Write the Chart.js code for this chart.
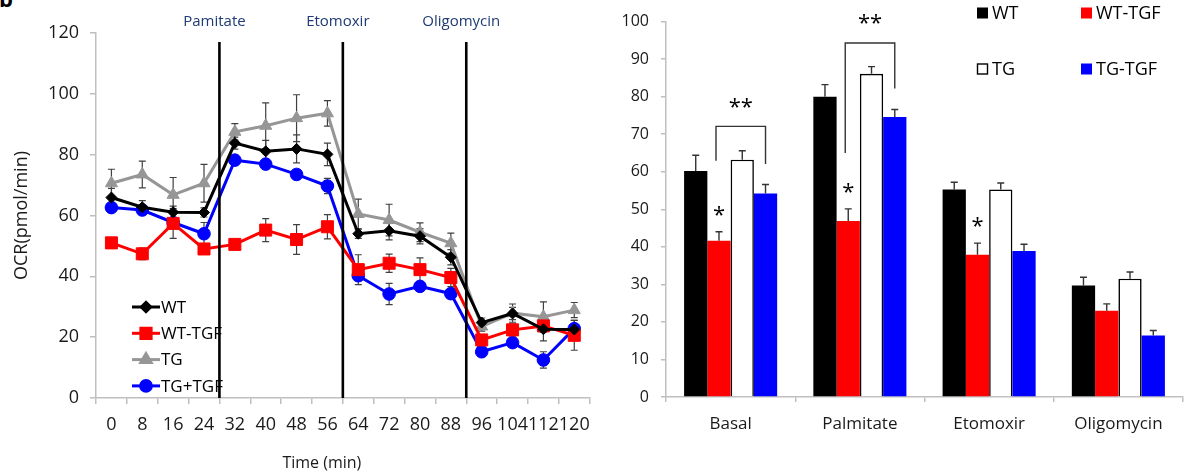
<!DOCTYPE html>
<html><head><meta charset="utf-8">
<script src="https://cdn.jsdelivr.net/npm/chart.js@4.4.0/dist/chart.umd.min.js"></script>
<style>
html,body{margin:0;padding:0;background:#fff;width:1187px;height:476px;overflow:hidden;font-family:'Open Sans',sans-serif;}
#left{position:absolute;left:0;top:0;width:600px;height:476px;}
#right{position:absolute;left:600px;top:0;width:587px;height:476px;}
#tag{position:absolute;left:-1px;top:-17px;font:bold 22px 'Open Sans',sans-serif;color:#000;}
</style></head><body>
<div id="tag">b</div>
<div id="left"><canvas id="c1" width="600" height="476"></canvas></div>
<div id="right"><canvas id="c2" width="587" height="476"></canvas></div>
<script>
// ---------- left chart data ----------
const timeLabels = ['0','8','16','24','32','40','48','56','64','72','80','88','96','104','112','120'];
const wt       = [65.9, 62.7, 61.1, 61.0, 83.8, 81.1, 81.9, 80.1, 54.0, 55.0, 53.2, 46.3, 24.8, 27.8, 22.6, 22.5];
const wtTgf    = [51.0, 47.4, 57.4, 49.0, 50.5, 55.2, 52.1, 56.3, 42.2, 44.3, 42.2, 39.6, 19.1, 22.4, 23.7, 20.6];
const tg       = [70.6, 73.5, 66.8, 70.6, 87.5, 89.5, 92.0, 93.6, 60.5, 58.5, 54.5, 50.9, 23.5, 27.9, 26.7, 28.9];
const tgTgf    = [62.6, 61.8, 57.7, 54.0, 78.2, 76.9, 73.5, 69.7, 40.2, 34.2, 36.7, 34.3, 15.2, 18.2, 12.5, 22.8];
const wtErr    = [3.0, 2.2, 2.0, 1.5, 2.0, 3.6, 4.6, 3.7, 1.5, 3.0, 2.5, 2.5, 1.5, 2.0, 3.8, 3.0];
const wtTgfErr = [1.0, 1.9, 4.9, 1.0, 1.0, 3.8, 4.9, 4.0, 4.9, 3.0, 3.9, 3.0, 1.5, 2.0, 2.0, 4.9];
const tgErr    = [4.6, 4.4, 5.7, 6.2, 2.7, 7.5, 7.7, 4.2, 4.9, 5.2, 3.1, 3.3, 1.5, 3.0, 4.9, 2.5];
const tgTgfErr = [1.0, 1.0, 1.5, 3.7, 1.5, 1.5, 1.5, 2.5, 1.5, 3.5, 1.5, 1.5, 1.0, 1.0, 2.7, 1.0];
const injections = ['Pamitate', 'Etomoxir', 'Oligomycin'];
const injectionAfterIndex = [3, 7, 11];
const lineYTicks = [0, 20, 40, 60, 80, 100, 120];

// ---------- right chart data ----------
const phases      = ['Basal', 'Palmitate', 'Etomoxir', 'Oligomycin'];
const barWt       = [60.2, 80.0, 55.3, 29.7];
const barWtTgf    = [41.6, 46.9, 37.9, 23.0];
const barTg       = [63.2, 86.1, 55.3, 31.5];
const barTgTgf    = [54.2, 74.6, 38.9, 16.4];
const barWtErr    = [4.2, 3.2, 1.9, 2.2];
const barWtTgfErr = [2.4, 3.2, 3.1, 1.8];
const barTgErr    = [2.4, 1.9, 1.7, 1.8];
const barTgTgfErr = [2.4, 2.0, 1.8, 1.3];
const singleStarPhases = [0, 1, 2];        // '*' above WT-TGF
const bracketPhase   = [0, 1];             // '**' brackets WT-TGF vs TG-TGF
const bracketTop     = [72.1, 94.3];
const bracketLeftEnd = [62.9, 65.0];
const bracketRightEnd= [62.1, 82.2];

Chart.defaults.font.family = "'Open Sans', sans-serif";
Chart.defaults.color = '#1a1a1a';
const AX = '#bfbfbf';
const FONT = "'Open Sans', sans-serif";

// ---------- left chart ----------
const leftDecor = {
  id: 'leftDecor',
  beforeDatasetsDraw(chart) {
    const ctx = chart.ctx, ys = chart.scales.y;
    ctx.save();
    ctx.strokeStyle = '#404040'; ctx.lineWidth = 1.2;
    chart.data.datasets.forEach((ds, i) => {
      chart.getDatasetMeta(i).data.forEach((pt, j) => {
        const v = ds.data[j], e = ds.errors[j];
        const y1 = ys.getPixelForValue(v + e), y2 = ys.getPixelForValue(v - e);
        ctx.beginPath();
        ctx.moveTo(pt.x, y1); ctx.lineTo(pt.x, y2);
        ctx.moveTo(pt.x - 3.5, y1); ctx.lineTo(pt.x + 3.5, y1);
        ctx.moveTo(pt.x - 3.5, y2); ctx.lineTo(pt.x + 3.5, y2);
        ctx.stroke();
      });
    });
    ctx.restore();
  },
  afterDatasetsDraw(chart) {
    const ctx = chart.ctx, xs = chart.scales.x, ys = chart.scales.y;
    ctx.save();
    // legend
    ctx.font = '17px ' + FONT; ctx.textBaseline = 'middle'; ctx.textAlign = 'left';
    chart.data.datasets.forEach((ds, i) => {
      const ly = 307 + i * 26.3;
      ctx.strokeStyle = ds.borderColor; ctx.lineWidth = 3;
      ctx.beginPath(); ctx.moveTo(132, ly); ctx.lineTo(160, ly); ctx.stroke();
      ctx.fillStyle = ds.pointBackgroundColor; ctx.strokeStyle = ds.borderColor;
      Chart.helpers.drawPoint(ctx, {pointStyle: ds.pointStyle, radius: ds.pointRadius * 0.85, rotation: 0, borderWidth: 1}, 146, ly);
      ctx.fillStyle = '#000';
      ctx.fillText(ds.label, 161, ly + 1);
    });
    // injection lines
    ctx.strokeStyle = '#000'; ctx.lineWidth = 2.6;
    ctx.font = '15px ' + FONT; ctx.textAlign = 'center'; ctx.fillStyle = '#1F3B73';
    injectionAfterIndex.forEach((idx, k) => {
      const lx = (xs.getPixelForTick(idx) + xs.getPixelForTick(idx + 1)) / 2;
      ctx.beginPath(); ctx.moveTo(lx, 42); ctx.lineTo(lx, ys.getPixelForValue(0)); ctx.stroke();
      ctx.fillText(injections[k], lx - 5, 22);
    });
    // x title
    ctx.fillStyle = '#1a1a1a'; ctx.font = '16px ' + FONT;
    ctx.fillText('Time (min)', (xs.left + xs.right) / 2 - 21, 463);
    ctx.restore();
  }
};

new Chart(document.getElementById('c1'), {
  type: 'line',
  data: {
    labels: timeLabels,
    datasets: [
      {label: 'WT', data: wt, errors: wtErr, borderColor: '#000000', pointBackgroundColor: '#000000', pointStyle: 'rectRot', pointRadius: 5.5},
      {label: 'WT-TGF', data: wtTgf, errors: wtTgfErr, borderColor: '#ff0000', pointBackgroundColor: '#ff0000', pointStyle: 'rect', pointRadius: 8.5},
      {label: 'TG', data: tg, errors: tgErr, borderColor: '#969696', pointBackgroundColor: '#969696', pointStyle: 'triangle', pointRadius: 7},
      {label: 'TG+TGF', data: tgTgf, errors: tgTgfErr, borderColor: '#0000ff', pointBackgroundColor: '#0000ff', pointStyle: 'circle', pointRadius: 6.3}
    ].map(d => Object.assign(d, {borderWidth: 3, pointBorderWidth: 1, pointBorderColor: d.borderColor, pointHoverRadius: d.pointRadius, tension: 0, fill: false}))
  },
  options: {
    responsive: false, animation: false,
    layout: {padding: {top: 33, right: 9, left: 0, bottom: 0}},
    plugins: {legend: {display: false}, tooltip: {enabled: false}},
    scales: {
      x: {
        type: 'category', offset: true,
        grid: {offset: true, drawOnChartArea: false, drawTicks: true, tickLength: 6, color: AX, lineWidth: 1.5},
        border: {display: true, color: AX, width: 1.5},
        ticks: {autoSkip: false, maxRotation: 0, padding: 10, font: {size: 18}, color: '#1a1a1a'},
        afterFit: s => { s.height = 78; }
      },
      y: {
        min: 0, max: 120,
        afterBuildTicks: s => { s.ticks = lineYTicks.map(v => ({value: v})); },
        grid: {drawOnChartArea: false, drawTicks: true, tickLength: 6, color: AX, lineWidth: 1.5},
        border: {display: true, color: AX, width: 1.5},
        ticks: {padding: 11, font: {size: 18}, color: '#1a1a1a'},
        title: {display: true, text: 'OCR(pmol/min)', font: {size: 18}, color: '#1a1a1a', padding: {top: 11, bottom: 0}},
        afterFit: s => { s.width = 96; }
      }
    }
  },
  plugins: [leftDecor]
});

// ---------- right chart ----------
const rightDecor = {
  id: 'rightDecor',
  afterDatasetsDraw(chart) {
    const ctx = chart.ctx, ys = chart.scales.y;
    ctx.save();
    // error bars (upper only)
    ctx.strokeStyle = '#333'; ctx.lineWidth = 1.4;
    chart.data.datasets.forEach((ds, i) => {
      chart.getDatasetMeta(i).data.forEach((bar, j) => {
        const top = ys.getPixelForValue(ds.data[j] + ds.errors[j]);
        ctx.beginPath();
        ctx.moveTo(bar.x, bar.y); ctx.lineTo(bar.x, top);
        ctx.moveTo(bar.x - 3.5, top); ctx.lineTo(bar.x + 3.5, top);
        ctx.stroke();
      });
    });
    // single stars
    const m1 = chart.getDatasetMeta(1), m3 = chart.getDatasetMeta(3);
    const ds1 = chart.data.datasets[1];
    ctx.fillStyle = '#000'; ctx.font = '22px ' + FONT; ctx.textAlign = 'center'; ctx.textBaseline = 'middle';
    singleStarPhases.forEach(p => {
      const cap = ys.getPixelForValue(ds1.data[p] + ds1.errors[p]);
      ctx.fillText('*', m1.data[p].x, cap - 22 + 6);
    });
    // brackets
    ctx.strokeStyle = '#333'; ctx.lineWidth = 1.4;
    bracketPhase.forEach((p, k) => {
      const xl = m1.data[p].x - 3, xr = m3.data[p].x;
      const yt = ys.getPixelForValue(bracketTop[k]);
      ctx.beginPath();
      ctx.moveTo(xl, ys.getPixelForValue(bracketLeftEnd[k])); ctx.lineTo(xl, yt);
      ctx.lineTo(xr, yt); ctx.lineTo(xr, ys.getPixelForValue(bracketRightEnd[k]));
      ctx.stroke();
      ctx.fillText('**', (xl + xr) / 2, yt - 25 + 6);
    });
    // legend
    ctx.font = '18px ' + FONT; ctx.textAlign = 'left';
    chart.data.datasets.forEach((ds, i) => {
      const lx = 377 + (i % 2) * 104, ly = 13 + Math.floor(i / 2) * 56;
      ctx.fillStyle = ds.backgroundColor;
      ctx.fillRect(lx, ly - 5.5, 11, 11);
      if (ds.borderWidth) { ctx.strokeStyle = ds.borderColor; ctx.lineWidth = 1.4; ctx.strokeRect(lx + 0.5, ly - 5, 10, 10); }
      ctx.fillStyle = '#000';
      ctx.fillText(ds.label, lx + 15, ly + 1);
    });
    ctx.restore();
  }
};

new Chart(document.getElementById('c2'), {
  type: 'bar',
  data: {
    labels: phases,
    datasets: [
      {label: 'WT', data: barWt, errors: barWtErr, backgroundColor: '#000000', borderWidth: 0},
      {label: 'WT-TGF', data: barWtTgf, errors: barWtTgfErr, backgroundColor: '#ff0000', borderWidth: 0},
      {label: 'TG', data: barTg, errors: barTgErr, backgroundColor: '#ffffff', borderColor: '#000000', borderWidth: 1.6},
      {label: 'TG-TGF', data: barTgTgf, errors: barTgTgfErr, backgroundColor: '#0000ff', borderWidth: 0}
    ].map(d => Object.assign(d, {barPercentage: 1.0, categoryPercentage: 0.72}))
  },
  options: {
    responsive: false, animation: false,
    layout: {padding: {top: 8, right: 4, left: 0, bottom: 0}},
    plugins: {legend: {display: false}, tooltip: {enabled: false}},
    scales: {
      x: {
        grid: {offset: true, drawOnChartArea: false, drawTicks: true, tickLength: 5, color: AX, lineWidth: 1.5},
        border: {display: true, color: AX, width: 1.5},
        ticks: {padding: 12, font: {size: 17}, color: '#1a1a1a'},
        afterFit: s => { s.height = 79; }
      },
      y: {
        min: 0, max: 100,
        ticks: {stepSize: 10, padding: 12, font: {size: 16}, color: '#1a1a1a'},
        grid: {drawOnChartArea: false, drawTicks: true, tickLength: 5, color: AX, lineWidth: 1.5},
        border: {display: true, color: AX, width: 1.5},
        afterFit: s => { s.width = 66; }
      }
    }
  },
  plugins: [rightDecor]
});
</script>
</body></html>
